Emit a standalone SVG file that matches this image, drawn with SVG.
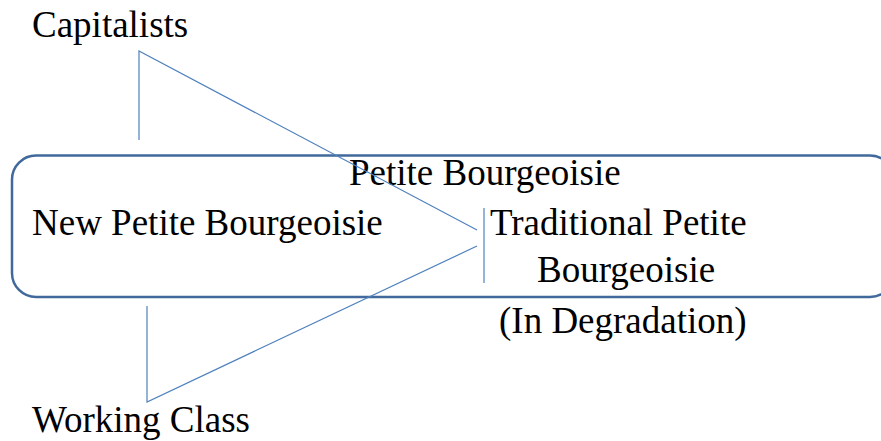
<svg xmlns="http://www.w3.org/2000/svg" width="881" height="441" viewBox="0 0 881 441">
<style>
text{font-family:"Liberation Serif","Times New Roman",serif;font-size:37px;fill:#000}
.c{fill:none;stroke:#4f81bd;stroke-width:1.2}
</style>
<rect width="881" height="441" fill="#fff"/>
<g id="petite-bourgeoisie">
<rect x="12" y="155.5" width="882" height="141.5" rx="24" ry="24" fill="none" stroke="#41699b" stroke-width="2.5"/>
<text x="349" y="185">Petite Bourgeoisie</text>
</g>
<g id="new-petite-bourgeoisie"><text x="32" y="235">New Petite Bourgeoisie</text></g>
<g id="traditional-petite-bourgeoisie">
<text x="490" y="235">Traditional Petite</text>
<text x="537" y="282">Bourgeoisie</text>
<text x="499" y="333">(In Degradation)</text>
</g>
<g id="capitalists"><text x="32" y="37">Capitalists</text></g>
<g id="working-class"><text x="32" y="432">Working Class</text></g>
<g id="connectors">
<polyline class="c" points="139,140 139,51 477,230"/>
<polyline class="c" points="147,306 147,402 477,246"/>
<line class="c" x1="484" y1="208" x2="484" y2="283"/>
</g>
</svg>
